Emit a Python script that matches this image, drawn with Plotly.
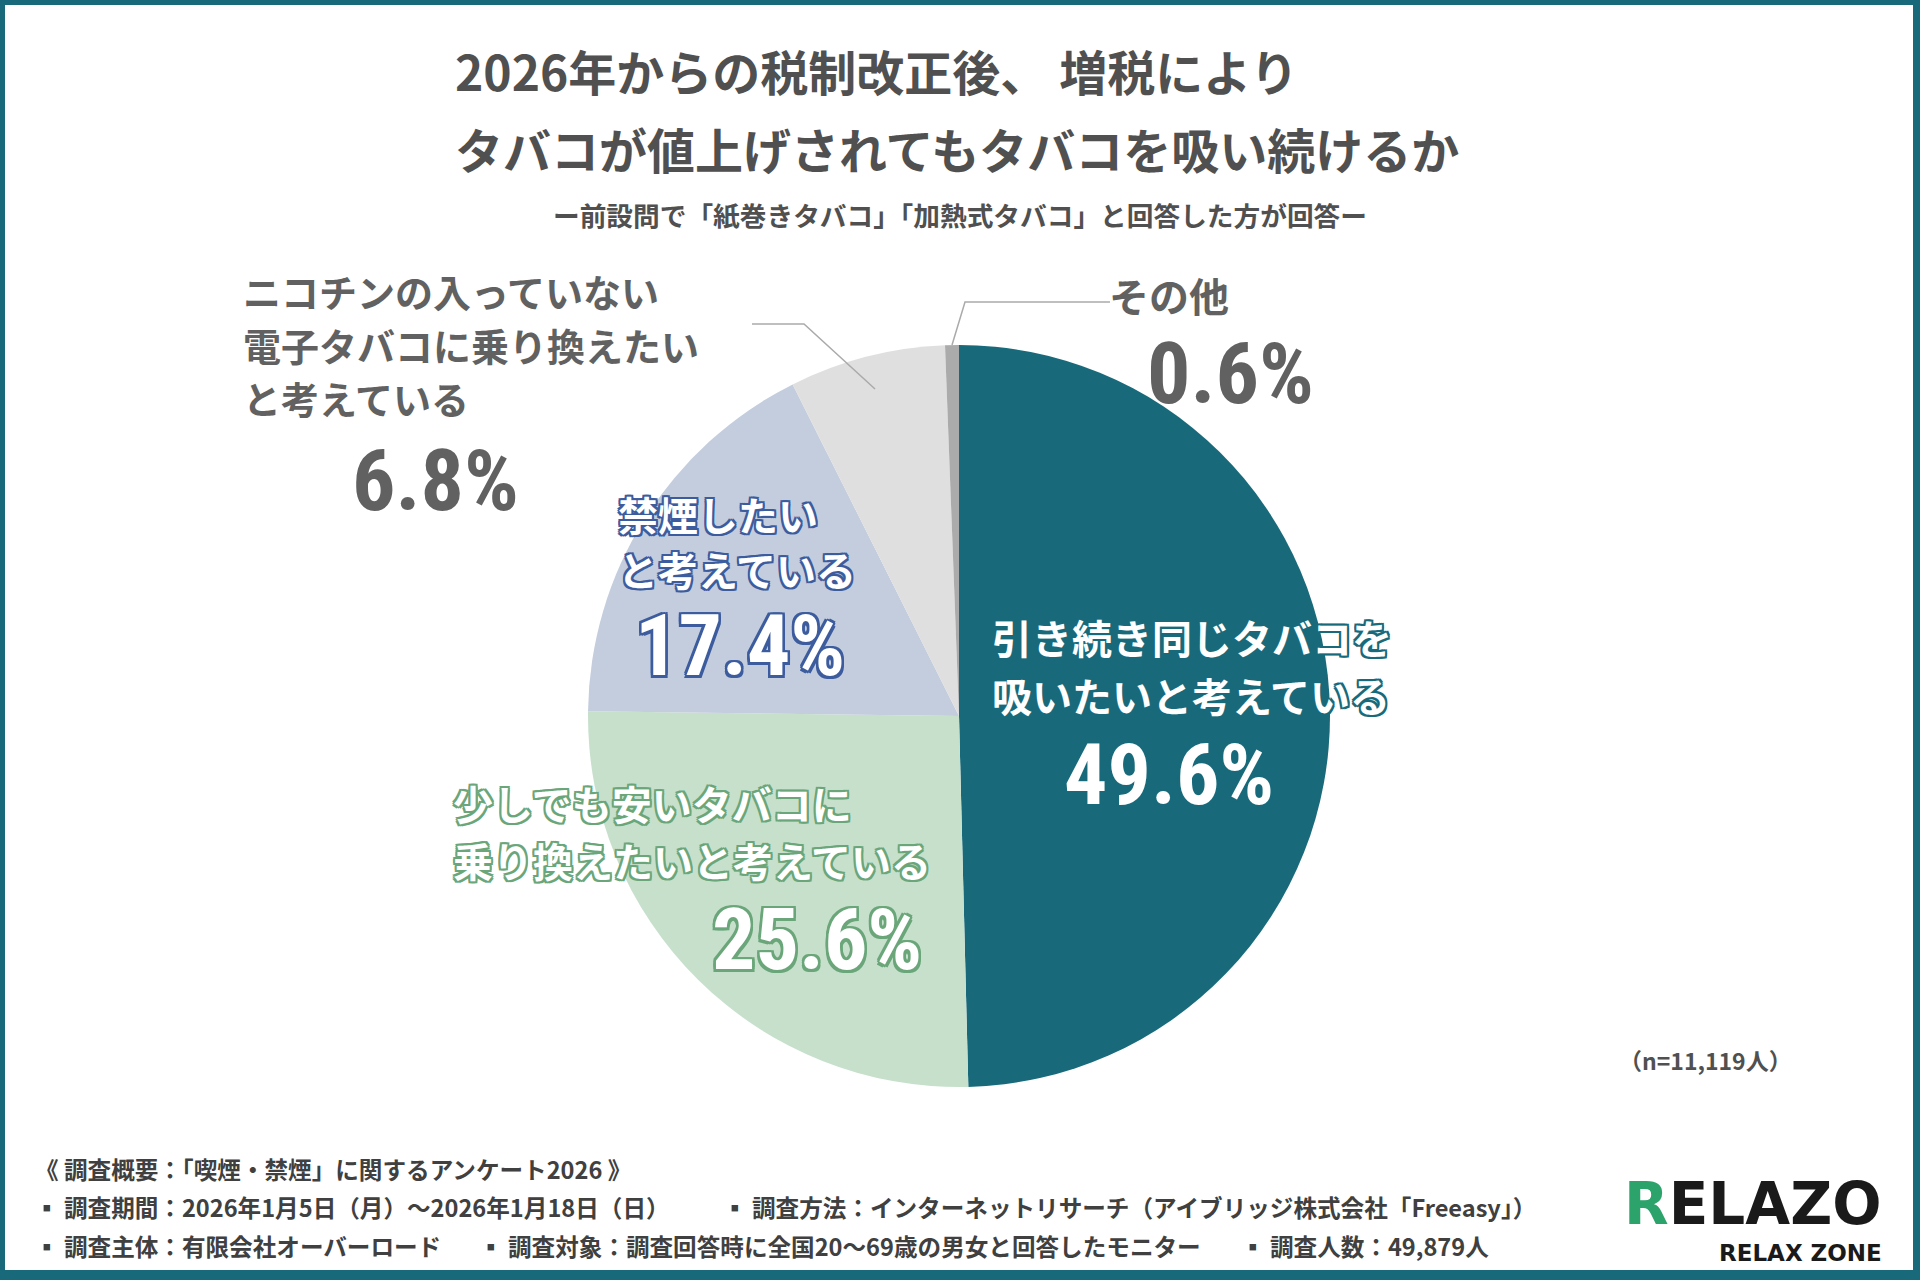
import math
import plotly.graph_objects as go

W, H = 1920, 1280

# ---- data ----
categories = [
    "引き続き同じタバコを\n吸いたいと考えている",
    "少しでも安いタバコに\n乗り換えたいと考えている",
    "禁煙したい\nと考えている",
    "ニコチンの入っていない\n電子タバコに乗り換えたい\nと考えている",
    "その他",
]
values = [49.6, 25.6, 17.4, 6.8, 0.6]
colors = ["#186A7B", "#C7E0CC", "#C3CDDD", "#DFDFDF", "#ABABAB"]

title_lines = ["2026年からの税制改正後、 増税により", "タバコが値上げされてもタバコを吸い続けるか"]
subtitle = "ー前設問で「紙巻きタバコ」「加熱式タバコ」と回答した方が回答ー"
n_note = "（n=11,119人）"
footer = [
    [("《 調査概要：「喫煙・禁煙」に関するアンケート2026 》", 37)],
    [("▪ 調査期間：2026年1月5日（月）～2026年1月18日（日）", 37),
     ("▪ 調査方法：インターネットリサーチ（アイブリッジ株式会社「Freeasy」）", 725)],
    [("▪ 調査主体：有限会社オーバーロード", 37),
     ("▪ 調査対象：調査回答時に全国20～69歳の男女と回答したモニター", 481),
     ("▪ 調査人数：49,879人", 1243)],
]

JP = "Noto Sans CJK JP"
NUM = "Noto Sans ExtraCondensed, Noto Sans Condensed, Liberation Sans Narrow, Roboto Condensed, Roboto, sans-serif"


def px(x):
    return x / W


def py(y):
    return 1 - y / H


def outline(c, w=2):
    d = [(-w, -w), (w, -w), (-w, w), (w, w), (0, w), (0, -w), (w, 0), (-w, 0)]
    return ", ".join(f"{a}px {b}px 0 {c}" for a, b in d)


# pie placement (pixels)
cx, cy, r = 959, 716, 371

fig = go.Figure()
fig.add_trace(go.Pie(
    values=values,
    labels=[c.replace("\n", "") for c in categories],
    sort=False,
    direction="clockwise",
    rotation=0,
    marker=dict(colors=colors, line=dict(width=0)),
    textinfo="none",
    hoverinfo="label+percent",
    showlegend=False,
    domain=dict(x=[px(cx - r), px(cx + r)], y=[py(cy + r), py(cy - r)]),
))

ann = []


def text(x, y, s, size, color, xanchor="left", family=JP, shadow="none",
         weight="bold"):
    if family == JP:
        y -= 3
        if xanchor == "left":
            x -= 4
    ann.append(dict(x=px(x), y=py(y), xref="paper", yref="paper", text=s,
                    showarrow=False, xanchor=xanchor, yanchor="middle",
                    font=dict(family=family, size=size, color=color, weight=weight,
                              shadow=shadow)))


# title
text(457, 73, title_lines[0], 48, "#505050")
text(457, 151, title_lines[1], 48, "#505050")
text(960, 217, subtitle, 26.7, "#505050", xanchor="center")

# slice labels: line positions, pct position, text colour, outline colour
label_style = [
    dict(x=994, ys=[640, 698], fs=40, pc=(1169, 774), col="white", sh=outline("#186A7B")),
    dict(x=455, ys=[806, 863], fs=40, pc=(817, 939), col="white", sh=outline("#6AA679")),
    dict(x=620, ys=[517, 572], fs=40, pc=(740, 645), col="white", sh=outline("#3C5C9E")),
    dict(x=245, ys=[294, 347, 400], fs=38, pc=(435, 480), col="#616161", sh="none"),
    dict(x=1111, ys=[298], fs=40, pc=(1230, 373), col="#616161", sh="none"),
]
for cat, v, st in zip(categories, values, label_style):
    for line, yy in zip(cat.split("\n"), st["ys"]):
        text(st["x"], yy, line, st["fs"], st["col"], shadow=st["sh"])
    text(st["pc"][0], st["pc"][1], f"{v:.1f}%", 86, st["col"], xanchor="center",
         family=NUM, shadow=st["sh"].replace("2px", "2.5px"))

# leader lines computed from slice angles
cum = [sum(values[:i]) for i in range(len(values))]
shapes = [dict(type="rect", xref="paper", yref="paper", x0=px(5), x1=px(W - 7),
               y0=py(H - 10), y1=py(5), fillcolor="white", line=dict(width=0),
               layer="below")]
leaders = {3: (0.91, (804, 324), (752, 324)), 4: (1.0, (965, 302), (1110, 302))}
for i, (rf, elbow, end) in leaders.items():
    mid = (cum[i] + values[i] / 2) / 100 * 2 * math.pi
    sx = cx + rf * r * math.sin(mid)
    sy = cy - rf * r * math.cos(mid)
    pts = [(sx, sy), elbow, end]
    path = "M " + " L ".join(f"{px(a)},{py(b)}" for a, b in pts)
    shapes.append(dict(type="path", xref="paper", yref="paper", path=path,
                       line=dict(color="#AAAAAA", width=1.5)))

# n note
text(1621, 1063, n_note, 23, "#505050")

# footer
for yy, row in zip([1172, 1210, 1249], footer):
    for s, xx in row:
        text(xx, yy, s, 23.6, "#404040")

# logo
text(1884, 1204, "<span style='color:#2BA36B'>R</span>ELAZO", 58, "#1A1A1A",
     xanchor="right", family="DejaVu Sans", weight="bold")
text(1884, 1253, "RELAX ZONE", 23, "#1A1A1A", xanchor="right",
     family="DejaVu Sans")

fig.update_layout(
    width=W, height=H,
    margin=dict(l=0, r=0, t=0, b=0),
    paper_bgcolor="#186A7B",
    plot_bgcolor="white",
    annotations=ann,
    shapes=shapes,
)

fig.write_html("out.html", config={"displayModeBar": False},
               post_script="document.body.style.margin='0';")
